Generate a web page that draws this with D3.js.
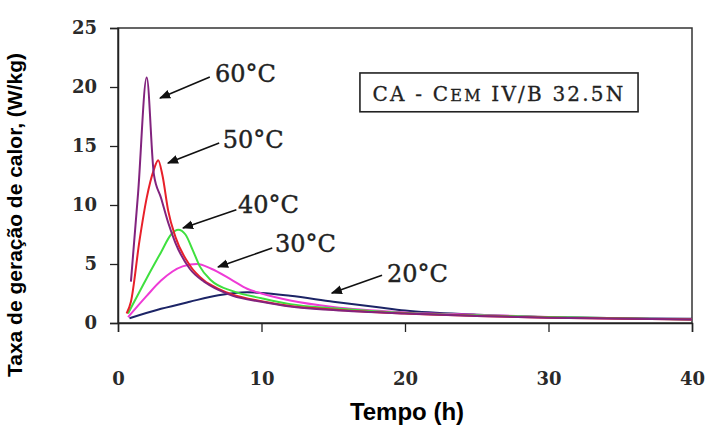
<!DOCTYPE html>
<html>
<head>
<meta charset="utf-8">
<script src="https://cdn.jsdelivr.net/npm/d3@7"></script>
<style>
  body { margin: 0; background: #ffffff; }
  svg { display: block; }
  .tick text { font-family: "DejaVu Serif", serif; font-weight: bold; font-size: 18px; fill: #2a2a2a; }
  .tick line, .domain { stroke: #222; }
</style>
</head>
<body>
<svg id="chart" width="708" height="428"></svg>
<script>
// series: [tempo (h), taxa (W/kg)]
var s60 = [[0.9,3.5],[1.4,11],[2.0,20.8],[2.5,12.6],[3.0,10.6],[3.5,8.5],[4,6.8],[5,4.6],[6,3.5],[7,2.8],[8,2.3],[10,1.8],[12,1.4],[15,1.1],[20,0.8],[25,0.6],[30,0.45],[40,0.3]];
var s50 = [[0.6,0.8],[0.9,1.8],[1.5,7],[2,10.6],[2.5,13],[2.8,13.8],[3.1,12.5],[3.5,9.5],[4,7.3],[5,4.9],[6,3.6],[7,2.9],[8,2.4],[10,1.85],[12,1.45],[15,1.15],[20,0.8],[25,0.6],[30,0.45],[40,0.3]];
var s40 = [[0.7,0.8],[1,1.5],[2,3.8],[3,6],[3.7,7.5],[4.2,7.9],[4.7,7.5],[5.2,6.2],[5.7,4.8],[6.5,3.6],[8,2.7],[10,2.1],[12,1.6],[15,1.25],[20,0.85],[25,0.65],[30,0.5],[40,0.3]];
var s30 = [[0.7,0.5],[2,2.3],[3,3.6],[4.5,4.8],[5.5,5.0],[6.5,4.6],[8,3.6],[9,2.9],[10,2.5],[12,1.9],[15,1.35],[20,0.9],[25,0.7],[30,0.5],[40,0.3]];
var s20 = [[0.8,0.4],[3,1.2],[5,1.8],[7,2.35],[9,2.6],[10,2.55],[12,2.3],[15,1.8],[18,1.35],[20,1.05],[25,0.7],[30,0.5],[40,0.35]];

var seriesNames = ["20°C", "30°C", "40°C", "50°C", "60°C"];
var seriesData = [s20, s30, s40, s50, s60];
var seriesColors = ["#1c2466", "#ee3bd6", "#3fe03f", "#e8202a", "#82237e"];

// label text position, arrow start, arrow tip (data units)
var labelPos = [[18.75,3.47],[10.94,6.0],[8.36,9.32],[7.3,14.8],[6.76,20.4]];
var arrowFrom = [[18.4,4.05],[10.75,6.35],[8.25,9.6],[7.05,15.25],[6.4,20.85]];
var arrowTo = [[14.9,2.54],[6.97,4.75],[4.53,8.05],[3.48,13.56],[2.93,19.07]];

var xTicks = [0, 10, 20, 30, 40];
var yTicks = [0, 5, 10, 15, 20, 25];

var margin = {top: 28, right: 16, bottom: 105, left: 118};
var width = 708 - margin.left - margin.right;
var height = 428 - margin.top - margin.bottom;

var svg = d3.select("#chart");
var g = svg.append("g").attr("transform", "translate(" + margin.left + "," + margin.top + ")");

var x = d3.scaleLinear().domain([0, 40]).range([0, width]);
var y = d3.scaleLinear().domain([0, 25]).range([height, 0]);

// frame
g.append("rect")
    .attr("width", width).attr("height", height)
    .style("fill", "none").style("stroke", "#333").style("stroke-width", 1.5);

g.append("g")
    .attr("transform", "translate(0," + height + ")")
    .call(d3.axisBottom(x).tickValues(xTicks).tickSize(9).tickPadding(40));
g.append("g")
    .call(d3.axisLeft(y).tickValues(yTicks).tickSize(8).tickPadding(13));
g.selectAll(".domain").style("stroke-width", 1.5);
g.selectAll(".tick line").style("stroke-width", 1.3);

// curves
var line = d3.line()
    .x(function(d) { return x(d[0]); })
    .y(function(d) { return y(d[1]); })
    .curve(d3.curveMonotoneX);

g.append("g").selectAll("path")
    .data(seriesData)
    .enter().append("path")
    .attr("d", line)
    .style("fill", "none")
    .style("stroke", function(d, i) { return seriesColors[i]; })
    .style("stroke-width", 2);

// arrows + labels
svg.append("defs").append("marker")
    .attr("id", "head")
    .attr("viewBox", "0 0 10 10")
    .attr("refX", 9).attr("refY", 5)
    .attr("markerWidth", 7).attr("markerHeight", 7)
    .attr("orient", "auto")
  .append("path")
    .attr("d", "M0,1 L10,5 L0,9 z")
    .style("fill", "#111");

var ann = g.append("g");
seriesNames.forEach(function(name, i) {
  ann.append("line")
      .attr("x1", x(arrowFrom[i][0])).attr("y1", y(arrowFrom[i][1]))
      .attr("x2", x(arrowTo[i][0])).attr("y2", y(arrowTo[i][1]))
      .style("stroke", "#111").style("stroke-width", 1.6)
      .attr("marker-end", "url(#head)");
  ann.append("text")
      .attr("x", x(labelPos[i][0])).attr("y", y(labelPos[i][1]))
      .style("font-family", "DejaVu Serif, serif")
      .style("font-size", "24px")
      .style("fill", "#222")
      .style("stroke", "#222").style("stroke-width", 0.4)
      .text(name);
});

// cement box
var boxX = [16.86, 36.24], boxY = [21.19, 17.9];
g.append("rect")
    .attr("x", x(boxX[0])).attr("y", y(boxY[0]))
    .attr("width", x(boxX[1]) - x(boxX[0]))
    .attr("height", y(boxY[1]) - y(boxY[0]))
    .style("fill", "#fff").style("stroke", "#222").style("stroke-width", 1.6);
var bt = g.append("text")
    .attr("x", x((boxX[0] + boxX[1]) / 2))
    .attr("y", y(boxY[1]) - 11)
    .attr("text-anchor", "middle")
    .style("font-family", "DejaVu Serif, serif")
    .style("font-size", "20px")
    .style("letter-spacing", "2.2px")
    .style("fill", "#222")
    .style("stroke", "#222").style("stroke-width", 0.3);
bt.append("tspan").text("CA - C");
bt.append("tspan").style("font-size", "16px").text("EM");
bt.append("tspan").text(" IV/B 32.5N");

// axis titles
svg.append("text")
    .attr("x", 407).attr("y", 420)
    .attr("text-anchor", "middle")
    .style("font-family", "Liberation Sans, Arial, sans-serif")
    .style("font-weight", "bold")
    .style("font-size", "24px")
    .text("Tempo (h)");
svg.append("text")
    .attr("transform", "translate(22,215) rotate(-90)")
    .attr("text-anchor", "middle")
    .style("font-family", "Liberation Sans, Arial, sans-serif")
    .style("font-weight", "bold")
    .style("font-size", "21px")
    .text("Taxa de geração de calor, (W/kg)");
</script>
</body>
</html>
